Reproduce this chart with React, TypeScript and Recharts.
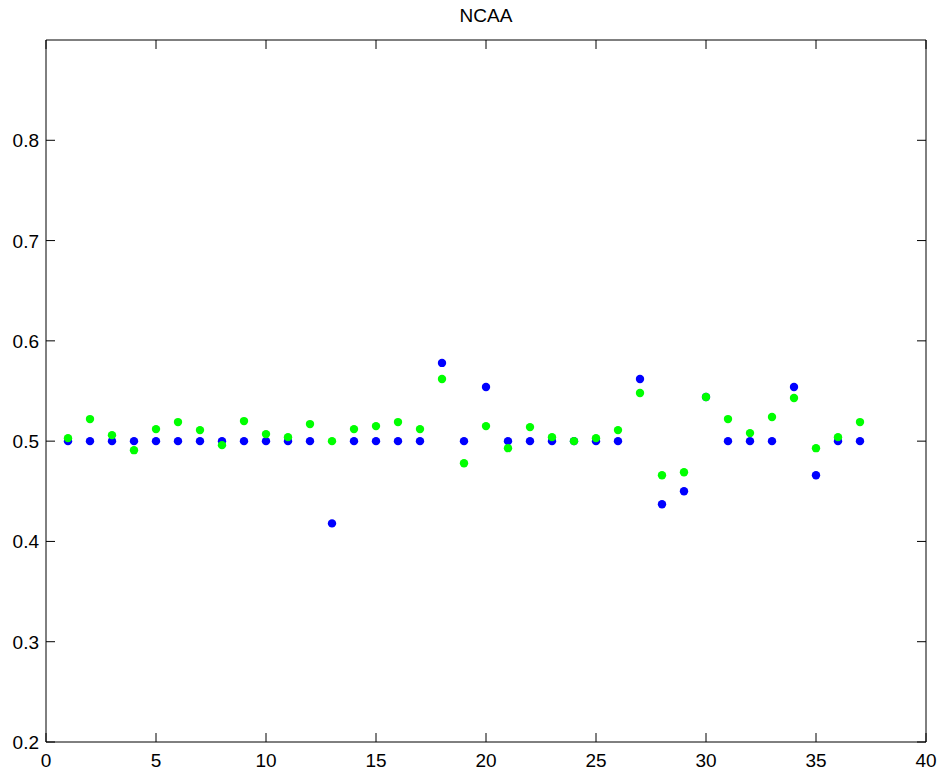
import { Scatter, ScatterChart, XAxis, YAxis } from 'recharts'

const xValues = [1, 2, 3, 4, 5, 6, 7, 8, 9, 10, 11, 12, 13, 14, 15, 16, 17, 18, 19, 20, 21, 22, 23, 24, 25, 26, 27, 28, 29, 30, 31, 32, 33, 34, 35, 36, 37]

const blueValues = [
  0.5, 0.5, 0.5, 0.5, 0.5, 0.5, 0.5, 0.5, 0.5, 0.5, 0.5, 0.5, 0.418, 0.5, 0.5, 0.5, 0.5, 0.578, 0.5,
  0.554, 0.5, 0.5, 0.5, 0.5, 0.5, 0.5, 0.562, 0.437, 0.45, 0.544, 0.5, 0.5, 0.5, 0.554, 0.466, 0.5, 0.5,
]

const greenValues = [
  0.503, 0.522, 0.506, 0.491, 0.512, 0.519, 0.511, 0.496, 0.52, 0.507, 0.504, 0.517, 0.5, 0.512, 0.515,
  0.519, 0.512, 0.562, 0.478, 0.515, 0.493, 0.514, 0.504, 0.5, 0.503, 0.511, 0.548, 0.466, 0.469, 0.544,
  0.522, 0.508, 0.524, 0.543, 0.493, 0.504, 0.519,
]

const xTicks = [0, 5, 10, 15, 20, 25, 30, 35, 40]
const yTicks = [0.2, 0.3, 0.4, 0.5, 0.6, 0.7, 0.8]

const blueData = xValues.map((x, i) => ({ x, y: blueValues[i] }))
const greenData = xValues.map((x, i) => ({ x, y: greenValues[i] }))

const font = '"Liberation Sans", Arial, sans-serif'
const TICK = 9

function dot(color: string) {
  return (props: any) => <circle cx={props.cx} cy={props.cy} r={4.2} fill={color} />
}

// MATLAB-style ticks: short marks pointing into the plot
const BottomTick = ({ x, y, payload }: any) => (
  <g>
    <line x1={x} x2={x} y1={y} y2={y - TICK} stroke="#000" />
    <text x={x} y={y + 25} textAnchor="middle" fontSize={19} fontFamily={font} fill="#000">
      {payload.value}
    </text>
  </g>
)

const LeftTick = ({ x, y, payload }: any) => (
  <g>
    <line x1={x} x2={x + TICK} y1={y} y2={y} stroke="#000" />
    <text x={x - 7} y={y + 7} textAnchor="end" fontSize={19} fontFamily={font} fill="#000">
      {payload.value}
    </text>
  </g>
)

const TopTick = ({ x, y }: any) => <line x1={x} x2={x} y1={y} y2={y + TICK} stroke="#000" />

const RightTick = ({ x, y }: any) => <line x1={x} x2={x - TICK} y1={y} y2={y} stroke="#000" />

export default function App() {
  return (
    <div style={{ position: 'absolute', left: 0, top: 0, width: 941, height: 772, background: '#fff' }}>
      <div
        style={{
          position: 'absolute',
          left: 46,
          width: 880,
          top: 5,
          textAlign: 'center',
          fontFamily: font,
          fontSize: 19,
          color: '#000',
        }}
      >
        NCAA
      </div>
      <ScatterChart width={941} height={772} margin={{ top: 39, right: 14, bottom: 0, left: 0 }}>
        <XAxis
          xAxisId="bottom"
          dataKey="x"
          type="number"
          domain={[0, 40]}
          ticks={xTicks}
          height={30}
          stroke="#000"
          tickSize={0}
          tickMargin={0}
          tickLine={false}
          tick={<BottomTick />}
          allowDataOverflow
        />
        <XAxis
          xAxisId="top"
          dataKey="x"
          orientation="top"
          type="number"
          domain={[0, 40]}
          ticks={xTicks}
          height={1}
          stroke="#000"
          tickSize={0}
          tickMargin={0}
          tickLine={false}
          tick={<TopTick />}
          allowDataOverflow
        />
        <YAxis
          yAxisId="left"
          dataKey="y"
          type="number"
          domain={[0.2, 0.9]}
          ticks={yTicks}
          width={46}
          stroke="#000"
          tickSize={0}
          tickMargin={0}
          tickLine={false}
          tick={<LeftTick />}
          allowDataOverflow
        />
        <YAxis
          yAxisId="right"
          dataKey="y"
          orientation="right"
          type="number"
          domain={[0.2, 0.9]}
          ticks={yTicks}
          width={1}
          stroke="#000"
          tickSize={0}
          tickMargin={0}
          tickLine={false}
          tick={<RightTick />}
          allowDataOverflow
        />
        <Scatter xAxisId="bottom" yAxisId="left" data={blueData} shape={dot('#0000ff')} isAnimationActive={false} />
        <Scatter xAxisId="top" yAxisId="right" data={greenData} shape={dot('#00ff00')} isAnimationActive={false} />
      </ScatterChart>
    </div>
  )
}
